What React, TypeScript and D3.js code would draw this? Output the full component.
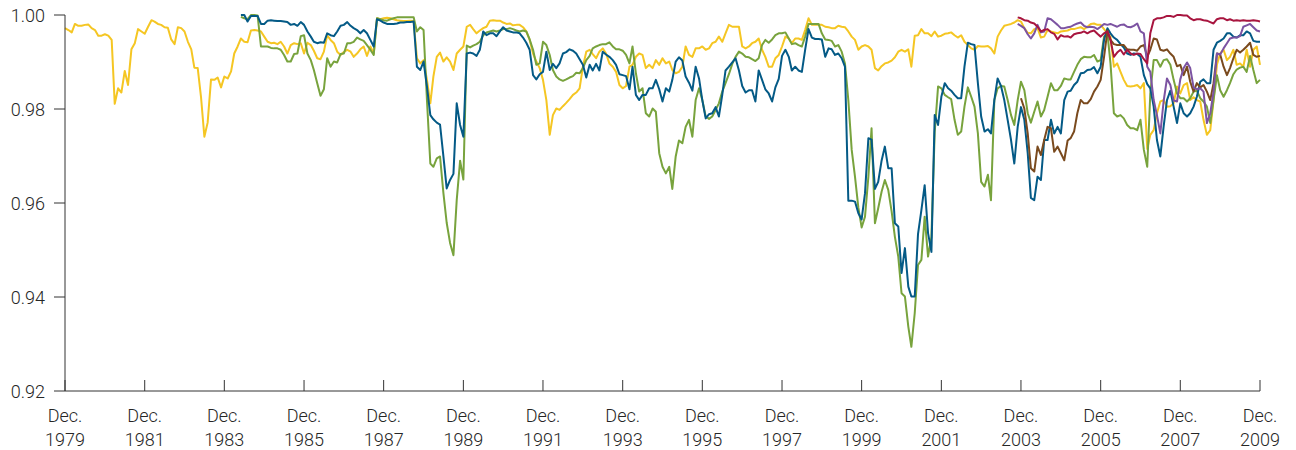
import React from 'react';
import * as d3 from 'd3';

// Month index 0 = Dec. 1979, 360 = Dec. 2009
const tickYears = [1979, 1981, 1983, 1985, 1987, 1989, 1991, 1993, 1995, 1997, 1999, 2001, 2003, 2005, 2007, 2009];
const yTicks = [0.92, 0.94, 0.96, 0.98, 1.0];

const yellowStart = 0;
const yellow = [
  0.9972, 0.9968, 0.9963, 0.9981, 0.9977, 0.9977, 0.9979, 0.998, 0.9972, 0.9968,
  0.9956, 0.9956, 0.9959, 0.9956, 0.9947, 0.9811, 0.9844, 0.9835, 0.9881, 0.9851,
  0.9927, 0.994, 0.997, 0.9965, 0.996, 0.9975, 0.9989, 0.9986, 0.9981, 0.9979,
  0.9974, 0.9973, 0.9948, 0.9938, 0.9974, 0.9972, 0.9965, 0.9943, 0.9927, 0.9888,
  0.9887, 0.9826, 0.9741, 0.9771, 0.9863, 0.9862, 0.9867, 0.9846, 0.9869, 0.9865,
  0.988, 0.9918, 0.9933, 0.995, 0.9943, 0.9942, 0.9967, 0.9968, 0.9967, 0.9965,
  0.9954, 0.9943, 0.994, 0.9941, 0.9938, 0.9943, 0.9933, 0.9918, 0.9936, 0.994,
  0.9938, 0.994, 0.9918, 0.9941, 0.9936, 0.9924, 0.9908, 0.9906, 0.9922, 0.9957,
  0.9947, 0.994, 0.9922, 0.9915, 0.9921, 0.9926, 0.9922, 0.9911, 0.9918, 0.9927,
  0.9933, 0.9913, 0.9933, 0.9918, 0.9993, 0.9991, 0.9993, 0.9994, 0.9993, 0.9991,
  0.9989, 0.9988, 0.9987, 0.9987, 0.9988, 0.9987, 0.9908, 0.9897, 0.9904, 0.9862,
  0.9812, 0.9869, 0.9911, 0.992, 0.9901, 0.991, 0.9901, 0.9883, 0.9918, 0.9926,
  0.9933, 0.9975, 0.9979, 0.997, 0.9961, 0.9967, 0.9972, 0.9975, 0.9988, 0.9989,
  0.9988, 0.9988, 0.9984, 0.9981, 0.9982, 0.9978, 0.9979, 0.9979, 0.9974, 0.9965,
  0.9947, 0.9918, 0.9901, 0.9887, 0.9862, 0.9819, 0.9745, 0.9787, 0.9801, 0.9798,
  0.9806, 0.9813, 0.9821, 0.983, 0.9835, 0.9844, 0.989, 0.9922, 0.9926, 0.9917,
  0.9908, 0.9922, 0.9929, 0.9918, 0.9897, 0.989, 0.9879, 0.9851, 0.9844, 0.9849,
  0.989, 0.9894, 0.9911, 0.9918, 0.9915, 0.9887, 0.9894, 0.9887, 0.9904, 0.9894,
  0.9908, 0.9897, 0.9901, 0.9883, 0.9876, 0.9879, 0.989, 0.9933, 0.9915, 0.9911,
  0.9929, 0.9929, 0.9933, 0.9926, 0.9929, 0.994, 0.9943, 0.9954, 0.9943, 0.9961,
  0.9979, 0.9975, 0.9975, 0.9975, 0.9933, 0.9929, 0.9933, 0.994, 0.9943, 0.995,
  0.9926, 0.9911, 0.989, 0.989, 0.9908, 0.9915, 0.9933, 0.9954, 0.995, 0.994,
  0.995, 0.995, 0.9947, 0.9968, 0.9993, 0.9979, 0.9979, 0.9979, 0.9979, 0.9975,
  0.9974, 0.9972, 0.9972, 0.9977, 0.9975, 0.9974, 0.9965, 0.9954, 0.9947, 0.9926,
  0.9933, 0.9936, 0.9933, 0.9926, 0.9887, 0.9882, 0.9891, 0.9897, 0.9899, 0.9903,
  0.991, 0.9922, 0.9926, 0.9922, 0.9927, 0.989, 0.9956, 0.9957, 0.997, 0.9961,
  0.9961, 0.9955, 0.9965, 0.9954, 0.9956, 0.996, 0.9961, 0.9963, 0.9957, 0.9952,
  0.9957, 0.9943, 0.9936, 0.9929, 0.9926, 0.9934, 0.9933, 0.9933, 0.9934, 0.9929,
  0.9918, 0.9954, 0.9967, 0.9977, 0.9979, 0.9981, 0.9984, 0.9989, 0.9986, 0.9972,
  0.9962, 0.9961, 0.997, 0.9972, 0.9952, 0.9954, 0.9968, 0.9965, 0.9963, 0.9961,
  0.9965, 0.9966, 0.9967, 0.997, 0.997, 0.9972, 0.9974, 0.997, 0.9975, 0.9981,
  0.9982, 0.9979, 0.9979, 0.997, 0.9961, 0.9954, 0.989, 0.9897, 0.9879, 0.9862,
  0.9849, 0.9848, 0.9849, 0.9851, 0.9844, 0.9855, 0.9715, 0.9745, 0.9755, 0.9791,
  0.9816, 0.9819, 0.9805, 0.9806, 0.9812, 0.9848, 0.9833, 0.9851, 0.9855, 0.9819,
  0.9825, 0.9819, 0.9816, 0.9777, 0.9745, 0.9755, 0.9819, 0.9894, 0.9918, 0.9926,
  0.9904, 0.9911, 0.9926, 0.9894, 0.9897, 0.989, 0.9926, 0.989, 0.9926, 0.9933, 0.9894,
];

const blueStart = 53;
const blue = [
  1.0, 1.0, 0.9986, 0.9998, 0.9998, 0.9998, 0.9981,
  0.9981, 0.9988, 0.9989, 0.9988, 0.9987, 0.9987, 0.9986, 0.9985, 0.9979, 0.9981,
  0.9977, 0.9985, 0.9979, 0.9965, 0.9954, 0.9943, 0.994, 0.9942, 0.9941, 0.9961,
  0.9957, 0.9955, 0.9965, 0.9977, 0.9979, 0.9985, 0.9977, 0.9972, 0.9968, 0.9961,
  0.9968, 0.9961, 0.9947, 0.9933, 0.9991, 0.9988, 0.9984, 0.9981, 0.9981, 0.9981,
  0.9982, 0.9984, 0.9984, 0.9985, 0.9985, 0.9986, 0.989, 0.9883, 0.9901, 0.9848,
  0.9787, 0.9778, 0.9771, 0.9767, 0.9699, 0.9631, 0.9649, 0.9662, 0.9812, 0.9766,
  0.9741, 0.9918, 0.992, 0.9918, 0.9913, 0.9926, 0.9965, 0.9957, 0.9961, 0.9961,
  0.9955, 0.9965, 0.9974, 0.9967, 0.9965, 0.9963, 0.9963, 0.9961, 0.9952, 0.9941,
  0.9926, 0.9872, 0.9863, 0.9874, 0.9879, 0.9922, 0.9883, 0.9896, 0.9887, 0.9897,
  0.9918, 0.9921, 0.9927, 0.9924, 0.9918, 0.9906, 0.9894, 0.9867, 0.9894, 0.9882,
  0.9896, 0.9882, 0.9922, 0.9916, 0.9911, 0.9904, 0.9894, 0.9874, 0.9872, 0.987,
  0.9842, 0.989, 0.983, 0.9819, 0.983, 0.983, 0.9844, 0.9844, 0.9862, 0.9842,
  0.9816, 0.9844, 0.9837, 0.9862, 0.9901, 0.991, 0.9903, 0.9869, 0.9856, 0.9839,
  0.989, 0.9865, 0.9819, 0.978, 0.9789, 0.9791, 0.9804, 0.9784, 0.983, 0.9882,
  0.989, 0.9899, 0.9908, 0.9882, 0.9849, 0.9835, 0.984, 0.984, 0.9816, 0.9882,
  0.9862, 0.9842, 0.9833, 0.9816, 0.9846, 0.9864, 0.9913, 0.9926, 0.9911, 0.9882,
  0.989, 0.9882, 0.9879, 0.9926, 0.997, 0.9952, 0.9949, 0.9949, 0.9948, 0.9911,
  0.9929, 0.9927, 0.9915, 0.9918, 0.9908, 0.989, 0.9605, 0.9605, 0.9603, 0.9578,
  0.9565, 0.9621, 0.9738, 0.9735, 0.963, 0.9645, 0.969, 0.972, 0.9674, 0.9674,
  0.9557, 0.955, 0.9451, 0.9504, 0.9422, 0.9401, 0.9401, 0.9534, 0.9585, 0.9638,
  0.9536, 0.9496, 0.9787, 0.9766, 0.9826, 0.9855, 0.9844, 0.9839, 0.983, 0.9823,
  0.9823, 0.989, 0.9941, 0.9938, 0.9936, 0.9855, 0.9784, 0.9752, 0.9757, 0.9748,
  0.9819, 0.9865, 0.9849, 0.9819, 0.9777, 0.9734, 0.9684, 0.9762, 0.9804, 0.9777,
  0.9706, 0.9611, 0.9606, 0.9656, 0.9649, 0.9734, 0.9734, 0.9777, 0.9748, 0.9762,
  0.9748, 0.9819, 0.9837, 0.9839, 0.9851, 0.9858, 0.9876, 0.9877, 0.9883, 0.9884,
  0.9889, 0.9876, 0.989, 0.9947, 0.9972, 0.9961, 0.9952, 0.9947, 0.9938, 0.9931,
  0.9918, 0.9915, 0.9918, 0.9917, 0.9911, 0.9872, 0.9853, 0.9844, 0.9805, 0.9734,
  0.9699, 0.9762, 0.9819, 0.9839, 0.9805, 0.977, 0.9812, 0.9791, 0.9784, 0.9791,
  0.9805, 0.9826, 0.9858, 0.9863, 0.9855, 0.9855, 0.9926, 0.9941, 0.9945, 0.995,
  0.9961, 0.9961, 0.9954, 0.9952, 0.9957, 0.9957, 0.9965, 0.9961, 0.9945, 0.9943, 0.9943,
];

const greenStart = 53;
const green = [
  0.9996, 0.9993, 0.9991, 1.0, 1.0, 0.9999, 0.9933,
  0.9933, 0.9933, 0.993, 0.9929, 0.9929, 0.9926, 0.9915, 0.9901, 0.9901, 0.9917,
  0.9918, 0.9955, 0.9957, 0.9918, 0.9904, 0.9883, 0.9855, 0.9828, 0.9842, 0.9908,
  0.989, 0.9901, 0.9899, 0.9917, 0.9918, 0.994, 0.994, 0.9943, 0.9952, 0.9948,
  0.9945, 0.9936, 0.9926, 0.9915, 0.9993, 0.9991, 0.9989, 0.9988, 0.9991, 0.9993,
  0.9995, 0.9995, 0.9995, 0.9995, 0.9995, 0.9995, 0.9965, 0.9974, 0.9968, 0.9819,
  0.9684, 0.9677, 0.9695, 0.9699, 0.9621, 0.9558, 0.9515, 0.9489, 0.9606, 0.969,
  0.965, 0.9935, 0.9931, 0.9935, 0.9938, 0.9943, 0.9957, 0.9963, 0.9965, 0.9967,
  0.9965, 0.9967, 0.997, 0.997, 0.9972, 0.997, 0.9967, 0.9965, 0.9967, 0.9965,
  0.9948, 0.9926, 0.9894, 0.9897, 0.9943, 0.9936, 0.9915, 0.9883, 0.9869, 0.9863,
  0.986, 0.9863, 0.9867, 0.987, 0.9877, 0.9876, 0.9887, 0.9904, 0.9913, 0.9929,
  0.9933, 0.9936, 0.9938, 0.9938, 0.9942, 0.9933, 0.9927, 0.9927, 0.9924, 0.9915,
  0.9897, 0.9933, 0.9876, 0.9837, 0.9844, 0.9791, 0.9784, 0.9801, 0.9794, 0.9706,
  0.9677, 0.9663, 0.9677, 0.963, 0.9699, 0.9733, 0.9727, 0.9762, 0.9777, 0.9741,
  0.9819, 0.9844, 0.9819, 0.9784, 0.9779, 0.9784, 0.9798, 0.9812, 0.9837, 0.9855,
  0.9874, 0.9896, 0.9911, 0.9922, 0.9918, 0.9911, 0.991, 0.9906, 0.9902, 0.9908,
  0.9936, 0.9947, 0.9941, 0.9948, 0.9957, 0.9961, 0.9961, 0.9963, 0.995, 0.9938,
  0.994, 0.9936, 0.9933, 0.9954, 0.9981, 0.9981, 0.9981, 0.9981, 0.9961, 0.9948,
  0.9947, 0.9945, 0.9933, 0.9936, 0.9922, 0.9897, 0.9819, 0.9713, 0.9656, 0.959,
  0.9548, 0.9571, 0.9656, 0.9759, 0.9557, 0.9589, 0.9624, 0.9649, 0.9628, 0.9582,
  0.9528, 0.9486, 0.9408, 0.9401, 0.9337, 0.9294, 0.9366, 0.9468, 0.9479, 0.9571,
  0.9486, 0.9528, 0.975, 0.9848, 0.9844, 0.983, 0.9825, 0.9821, 0.9777, 0.9745,
  0.9752, 0.9805, 0.9846, 0.9826, 0.9805, 0.9748, 0.9645, 0.9635, 0.966, 0.9606,
  0.9819, 0.9844, 0.9849, 0.9848, 0.9819, 0.9787, 0.9766, 0.9819, 0.9858, 0.984,
  0.9791, 0.9771, 0.9794, 0.9816, 0.9784, 0.9798, 0.9826, 0.9855, 0.984, 0.984,
  0.9849, 0.9865, 0.9863, 0.9863, 0.9879, 0.9894, 0.9906, 0.9911, 0.991, 0.991,
  0.9915, 0.9901, 0.9904, 0.9954, 0.9961, 0.9897, 0.9791, 0.9784, 0.9787, 0.978,
  0.9766, 0.9759, 0.9759, 0.9755, 0.9777, 0.9713, 0.9677, 0.9833, 0.9904, 0.9904,
  0.989, 0.9904, 0.9906, 0.9894, 0.9862, 0.9833, 0.9823, 0.9823, 0.9816, 0.9823,
  0.9837, 0.9839, 0.9823, 0.9816, 0.9805, 0.977, 0.9819, 0.9872, 0.984, 0.9826,
  0.984, 0.9855, 0.9874, 0.9884, 0.9888, 0.989, 0.9879, 0.9913, 0.9883, 0.9855, 0.9862,
];

const redStart = 287;
const red = [
  0.9995, 0.9993, 0.9989, 0.9988, 0.9984, 0.9982, 0.9975, 0.9965, 0.9968, 0.997,
  0.9963, 0.996, 0.9948, 0.9957, 0.9954, 0.9955, 0.9952, 0.9959, 0.9961, 0.9962,
  0.9965, 0.9961, 0.9965, 0.9967, 0.996, 0.9954, 0.9961, 0.9965, 0.9947, 0.9911,
  0.992, 0.9926, 0.9916, 0.9926, 0.9918, 0.9915, 0.9918, 0.9917, 0.9906, 0.9897,
  0.9961, 0.9989, 0.9993, 0.9993, 0.9995, 0.9998, 0.9998, 0.9996, 1.0, 1.0,
  0.9999, 0.9999, 0.9993, 0.9989, 0.9991, 0.9991, 0.9989, 0.9988, 0.9985, 0.9982,
  0.9991, 0.9993, 0.9993, 0.9989, 0.9991, 0.9988, 0.9989, 0.9988, 0.9989, 0.9988,
  0.9988, 0.9989, 0.9988, 0.9986,
];

const purpleStart = 287;
const purple = [
  0.9981, 0.9977, 0.9972, 0.9959, 0.995, 0.9961, 0.9979, 0.9963, 0.9965, 0.9993,
  0.9991, 0.9985, 0.9979, 0.9972, 0.9972, 0.9974, 0.9975, 0.9979, 0.9982, 0.9984,
  0.9977, 0.9974, 0.9975, 0.9974, 0.997, 0.9975, 0.9981, 0.9979, 0.9981, 0.9978,
  0.9975, 0.9979, 0.998, 0.9975, 0.9974, 0.9977, 0.9982, 0.9965, 0.9961, 0.989,
  0.9879, 0.9819, 0.9787, 0.9748, 0.9816, 0.9865, 0.9851, 0.9818, 0.9816, 0.9863,
  0.9887, 0.9899, 0.9887, 0.9846, 0.9842, 0.9844, 0.9837, 0.977, 0.9791, 0.9837,
  0.9918, 0.9916, 0.9929, 0.994, 0.995, 0.9952, 0.9952, 0.9955, 0.9975, 0.9978,
  0.9981, 0.9974, 0.9967, 0.9965,
];

const brownStart = 288;
const brown = [
  0.9823, 0.9801, 0.9748, 0.9674, 0.9667, 0.972, 0.9702, 0.9734, 0.9762, 0.9759,
  0.9709, 0.972, 0.9706, 0.9691, 0.9733, 0.9738, 0.9752, 0.9791, 0.9819, 0.9812,
  0.9812, 0.9821, 0.9837, 0.9848, 0.9862, 0.9911, 0.9967, 0.9947, 0.9938, 0.9936,
  0.9936, 0.9936, 0.9927, 0.9926, 0.9926, 0.9924, 0.9933, 0.9936, 0.9911, 0.9926,
  0.995, 0.9948, 0.9926, 0.9924, 0.9927, 0.9918, 0.9911, 0.9891, 0.9894, 0.9872,
  0.989, 0.9858, 0.9837, 0.9855, 0.9846, 0.9851, 0.9837, 0.9819, 0.9855, 0.9918,
  0.9916, 0.989, 0.9872, 0.9887, 0.9908, 0.9926, 0.992, 0.9926, 0.9933, 0.9941,
  0.9915, 0.9911, 0.9913,
];

const seriesList = [
  { name: 'yellow', start: yellowStart, values: yellow, color: '#f5c623' },
  { name: 'green', start: greenStart, values: green, color: '#78a33d' },
  { name: 'blue', start: blueStart, values: blue, color: '#045a86' },
  { name: 'brown', start: brownStart, values: brown, color: '#7a4a1e' },
  { name: 'purple', start: purpleStart, values: purple, color: '#7c53a2' },
  { name: 'red', start: redStart, values: red, color: '#a8153f' },
];

const monthDate = (i: number) => new Date(1979, 11 + i, 1);

export default function App() {
  const W = 1296;
  const H = 450;
  const left = 65;
  const right = 1260;
  const top = 15;
  const bottom = 391;

  const x = d3.scaleTime().domain([monthDate(0), monthDate(360)]).range([left, right]);
  const y = d3.scaleLinear().domain([0.92, 1.0]).range([bottom, top]);

  const line = d3
    .line<[Date, number]>()
    .x((d) => x(d[0]))
    .y((d) => y(d[1]));

  const font = 'Roboto, "Liberation Sans", Arial, sans-serif';
  const textColor = '#262626';
  const fs = 18;

  return (
    <svg
      width={W}
      height={H}
      style={{ position: 'absolute', left: 0, top: 0, background: '#fff' }}
      fontFamily={font}
    >
      {seriesList.map((s) => {
        const pts: [Date, number][] = s.values.map((v, i) => [monthDate(s.start + i), v]);
        return (
          <path
            key={s.name}
            d={line(pts) || ''}
            fill="none"
            stroke={s.color}
            strokeWidth={2}
            strokeLinejoin="round"
          />
        );
      })}

      {/* y axis */}
      <line x1={left} x2={left} y1={top} y2={bottom} stroke="#333" strokeWidth={1} />
      {yTicks.map((t) => (
        <g key={t}>
          <line x1={left - 11} x2={left} y1={y(t)} y2={y(t)} stroke="#333" strokeWidth={1} />
          <text
            x={45}
            y={y(t)}
            textAnchor="end"
            dominantBaseline="central"
            fontSize={fs}
            fontWeight={300}
            fill={textColor}
          >
            {d3.format('.2f')(t)}
          </text>
        </g>
      ))}

      {/* x axis */}
      <line x1={left} x2={right} y1={bottom} y2={bottom} stroke="#333" strokeWidth={1} />
      {tickYears.map((yr) => {
        const tx = x(new Date(yr, 11, 1));
        return (
          <g key={yr}>
            <line x1={tx} x2={tx} y1={bottom - 11} y2={bottom} stroke="#333" strokeWidth={1} />
            <text x={tx} y={421.5} textAnchor="middle" fontSize={fs} fontWeight={300} fill={textColor}>
              Dec.
            </text>
            <text x={tx} y={445.5} textAnchor="middle" fontSize={fs} fontWeight={300} fill={textColor}>
              {yr}
            </text>
          </g>
        );
      })}
    </svg>
  );
}
